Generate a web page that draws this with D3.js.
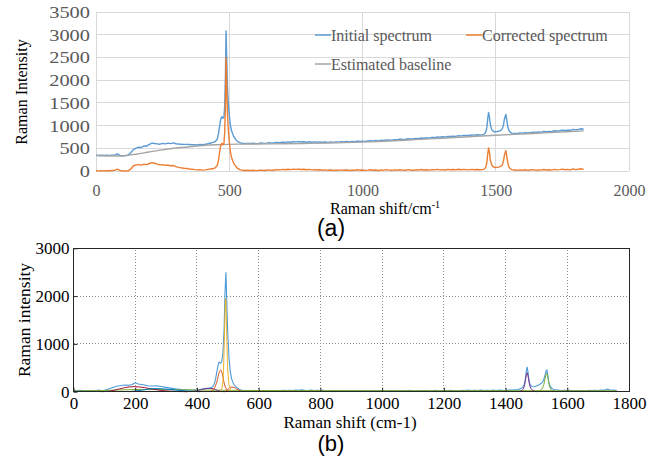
<!DOCTYPE html>
<html>
<head>
<meta charset="utf-8">
<script src="https://cdn.jsdelivr.net/npm/d3@7/dist/d3.min.js"></script>
<style>
  html, body { margin: 0; padding: 0; background: #fff; }
  svg { display: block; }
  .serif { font-family: "Liberation Serif", "Times New Roman", "DejaVu Serif", serif; }
  .sans { font-family: "Liberation Sans", Arial, sans-serif; }
</style>
</head>
<body>
<svg id="fig" width="661" height="456"></svg>
<script>
// ---------- (a) baseline correction ----------
const shiftA = [0,10,20,30,40,50,60,70,80,90,100,110,120,130,140,150,160,170,180,190,200,210,220,230,240,250,260,270,280,290,300,310,320,330,340,350,360,370,380,390,400,410,420,430,
  440,445,450,455,460,464,468,472,476,480,483,486,488,490,493,496,500,504,508,512,516,520,525,530,540,550,
  560,570,580,590,600,610,620,630,640,650,660,670,680,690,700,710,720,730,740,750,760,770,780,790,800,810,820,830,840,850,860,870,880,890,900,910,920,930,940,950,960,970,980,990,
  1000,1010,1020,1030,1040,1050,1060,1070,1080,1090,1100,1110,1120,1130,1140,1150,1160,1170,1180,1190,1200,1210,1220,1230,1240,1250,1260,1270,1280,1290,1300,1310,1320,1330,1340,1350,1360,1370,1380,1390,1400,1410,1420,1430,1440,
  1450,1455,1460,1464,1467,1470,1473,1476,1480,1485,1490,1495,1500,1505,1510,1515,1520,1525,1529,1533,1538,1542,1546,1550,1555,1560,
  1570,1580,1590,1600,1610,1620,1630,1640,1650,1660,1670,1680,1690,1700,1710,1720,1730,1740,1750,1760,1770,1780,1790,1800,1810,1820,1830];

const initialA = [346,342,347,341,346,341,347,350,375,344,336,338,350,395,470,505,522,517,551,546,585,614,605,598,590,607,596,613,602,619,600,593,589,585,586,582,578,577,573,587,581,590,601,617,
  630,642,664,700,832,1000,1142,1195,1160,1185,1430,2190,3085,2580,1890,1540,1240,1020,900,830,768,732,692,655,623,605,
  606,609,604,611,603,608,618,608,613,624,613,621,627,625,636,629,641,632,644,640,646,638,645,634,644,634,641,634,642,632,639,631,640,631,641,636,647,642,649,639,650,645,659,651,
  657,652,661,669,661,670,662,677,673,686,681,678,690,687,699,695,693,710,706,705,717,713,727,722,732,724,738,736,750,744,753,747,763,760,768,763,779,773,784,782,781,792,789,797,793,
  800,807,833,885,976,1157,1288,1199,1010,911,878,864,864,867,874,885,902,933,1015,1156,1247,1098,950,886,852,833,
  828,824,837,833,846,836,846,857,848,858,856,871,864,873,866,886,879,887,900,891,901,894,917,905,916,931,919];

const correctedA = [5,3,6,2,8,4,10,14,40,12,2,0,3,40,110,135,140,130,150,140,165,185,170,150,135,140,125,130,115,120,95,80,70,60,55,45,40,30,25,30,20,25,35,45,
  55,65,85,120,250,420,560,610,580,600,850,1600,2500,2000,1300,950,650,430,310,240,180,140,100,65,30,15,
  12,18,10,15,8,14,20,12,18,25,15,22,30,25,35,28,38,30,42,35,40,32,38,28,35,25,30,22,28,18,25,15,22,12,20,15,25,18,22,12,20,15,28,18,
  22,14,20,28,16,22,12,25,18,30,20,15,24,18,28,20,15,30,22,18,26,20,32,22,28,18,30,24,35,25,30,22,35,28,32,25,38,28,35,30,25,35,28,32,26,
  30,35,60,110,200,380,510,420,230,130,95,80,78,80,85,95,110,140,220,360,450,300,150,85,50,30,
  22,15,25,18,28,15,22,30,18,25,20,32,22,28,18,35,25,30,40,28,35,25,45,30,38,50,35];

// estimated baseline, sampled at knots and drawn as a smooth curve
const baselineShift = [0,95,120,150,200,250,300,350,400,450,500,550,600,700,800,900,1000,1100,1200,1300,1400,1500,1600,1700,1830];
const baselineValue = [340,331,345,370,418,465,505,535,560,577,587,592,595,600,608,620,635,660,690,722,755,786,815,845,884];

const xTicksA = [0,500,1000,1500,2000];
const yTicksA = [0,500,1000,1500,2000,2500,3000,3500];
const legendA = ["Initial spectrum","Corrected spectrum","Estimated baseline"];
const coloursA = ["#5b9bd5","#ed7d31","#a5a5a5"];

// ---------- (b) peak fitting ----------
const shiftB = [0,10,20,30,40,50,60,70,80,90,100,110,120,130,140,150,160,170,180,190,200,210,220,230,240,250,260,270,280,290,300,310,320,330,340,350,360,370,380,390,400,410,420,430,
  440,445,450,455,460,464,468,472,476,480,484,488,491,494,497,500,504,508,512,516,520,525,530,540,550,
  560,570,580,590,600,610,620,630,640,650,660,670,680,690,700,710,720,730,740,750,760,770,780,790,800,810,820,830,840,850,860,870,880,890,900,910,920,930,940,950,960,970,980,990,
  1000,1010,1020,1030,1040,1050,1060,1070,1080,1090,1100,1110,1120,1130,1140,1150,1160,1170,1180,1190,1200,1210,1220,1230,1240,1250,1260,1270,1280,1290,1300,1310,1320,1330,1340,1350,1360,1370,1380,1390,1400,1410,1420,1430,1440,
  1445,1450,1455,1460,1464,1467,1470,1473,1476,1480,1485,1490,1495,1500,1505,1510,1515,1520,1524,1528,1531,1534,1537,1540,1545,1550,1555,1560,
  1570,1580,1590,1600,1610,1620,1630,1640,1650,1660,1670,1680,1690,1700,1710,1720,1730,1740,1750,1760];

const spectrumB = [25,20,28,22,25,18,22,20,35,25,30,45,70,95,115,125,135,140,135,150,185,160,150,140,125,118,120,125,115,105,90,80,70,60,55,45,40,35,30,35,30,45,60,70,
  75,80,100,140,250,400,540,620,600,620,800,1300,2100,2500,1800,1200,700,420,280,200,150,110,80,40,20,
  15,22,12,18,10,16,22,14,20,26,18,24,30,22,28,25,35,28,38,30,26,32,24,30,22,28,20,26,18,24,20,16,24,14,20,16,24,18,22,14,20,16,26,18,
  22,15,20,26,16,22,14,24,18,28,20,16,24,18,26,20,16,28,22,18,24,20,30,22,26,18,28,22,34,24,28,22,32,26,30,24,34,26,32,28,24,32,36,40,45,
  55,65,90,140,260,420,520,400,230,140,110,105,110,120,135,150,170,200,260,350,430,450,340,200,110,70,50,40,
  32,25,30,22,28,20,26,18,24,20,28,22,30,24,35,28,55,30,35,28];

// fitted components: [shift, intensity] pairs
const bgB     = [[0,15],[100,25],[200,45],[300,42],[400,35],[500,30],[600,25],[800,22],[1000,20],[1200,20],[1400,22],[1600,20],[1760,20]];
const band190 = [[90,0],[120,15],[150,60],[180,100],[200,105],[230,85],[260,50],[290,22],[330,5],[370,0]];
const band270 = [[180,0],[220,30],[260,65],[290,60],[330,35],[370,12],[410,0]];
const band435 = [[380,0],[405,25],[425,60],[445,70],[460,45],[475,10],[490,0]];
const band478 = [[440,0],[455,60],[465,220],[472,400],[477,455],[482,380],[489,160],[498,40],[510,0]];
const band493 = [[470,0],[481,80],[486,450],[490,1400],[493,1950],[496,1300],[500,450],[506,90],[516,0]];
const band520 = [[490,0],[500,50],[510,95],[520,90],[530,50],[545,0]];
const band1470 = [[1440,0],[1455,40],[1462,150],[1467,330],[1470,400],[1473,320],[1478,140],[1486,40],[1500,0]];
const band1533 = [[1500,0],[1515,40],[1524,150],[1530,330],[1533,390],[1537,300],[1542,120],[1550,30],[1565,0]];

const xTicksB = [0,200,400,600,800,1000,1200,1400,1600,1800];
const yTicksB = [0,1000,2000,3000];

const svg = d3.select("#fig");
svg.append("rect").attr("width",661).attr("height",456).attr("fill","#fff");

// ===== panel (a) =====
const xA = d3.scaleLinear().domain([0,2000]).range([96,629]);
const yA = d3.scaleLinear().domain([0,3500]).range([171,12]);
const gA = svg.append("g");

// grid
gA.append("g").selectAll("line").data(yTicksA).join("line")
  .attr("x1",xA(0)).attr("x2",xA(2000)).attr("y1",d=>yA(d)).attr("y2",d=>yA(d))
  .attr("stroke","#d9d9d9").attr("stroke-width",1).attr("shape-rendering","crispEdges");
gA.append("g").selectAll("line").data(xTicksA).join("line")
  .attr("x1",d=>xA(d)).attr("x2",d=>xA(d)).attr("y1",yA(0)).attr("y2",yA(3500))
  .attr("stroke","#d9d9d9").attr("stroke-width",1).attr("shape-rendering","crispEdges");

// axes (labels only)
const axA = gA.append("g").attr("transform",`translate(0,${yA(0)})`)
  .call(d3.axisBottom(xA).tickValues(xTicksA).tickSize(0).tickPadding(14).tickFormat(d3.format("d")));
const ayA = gA.append("g").attr("transform",`translate(${xA(0)},0)`)
  .call(d3.axisLeft(yA).tickValues(yTicksA).tickSize(0).tickPadding(5).tickFormat(d3.format("d")));
[axA, ayA].forEach(a => {
  a.select(".domain").remove();
  a.attr("font-family",null).attr("font-size",null);
  a.selectAll("text").attr("class","serif").style("font-size","16px").attr("fill","#595959");
});
// the vertical-axis numbers are set wide
ayA.selectAll("text").style("font-size","17px").attr("x",-5).attr("transform","scale(1.2,1)");

const lineA = d3.line().x(d=>xA(d[0])).y(d=>yA(d[1]));
const pairs = (xs, ys) => xs.map((x,i)=>[x, ys[i]]);

gA.append("path").datum(pairs(shiftA, initialA)).attr("d",lineA)
  .attr("fill","none").attr("stroke",coloursA[0]).attr("stroke-width",1.4).attr("stroke-linejoin","round");
gA.append("path").datum(pairs(baselineShift, baselineValue)).attr("d",lineA.curve(d3.curveMonotoneX))
  .attr("fill","none").attr("stroke",coloursA[2]).attr("stroke-width",1.4);
lineA.curve(d3.curveLinear);
gA.append("path").datum(pairs(shiftA, correctedA)).attr("d",lineA)
  .attr("fill","none").attr("stroke",coloursA[1]).attr("stroke-width",1.4).attr("stroke-linejoin","round");

// legend
const legPos = [[315,35],[466,35],[315,64]];
legendA.forEach((name,i)=>{
  const [lx,ly] = legPos[i];
  gA.append("line").attr("x1",lx).attr("x2",lx+16).attr("y1",ly).attr("y2",ly)
    .attr("stroke",coloursA[i]).attr("stroke-width",1.5);
  gA.append("text").attr("class","serif").attr("x",lx+16).attr("y",ly+5.5).text(name)
    .style("font-size","16px").attr("fill","#595959");
});

// titles
gA.append("text").attr("class","serif").attr("transform","translate(27,92) rotate(-90)").attr("text-anchor","middle")
  .style("font-size","16px").attr("fill","#000").text("Raman Intensity");
const tA = gA.append("text").attr("class","serif").attr("x",330).attr("y",214)
  .style("font-size","16px").attr("fill","#000");
tA.append("tspan").text("Raman shift/cm");
tA.append("tspan").attr("dy",-6).style("font-size","10px").text("-1");
gA.append("text").attr("class","sans").attr("x",331).attr("y",236).attr("text-anchor","middle")
  .style("font-size","23px").attr("fill","#000").text("(a)");

// ===== panel (b) =====
const xB = d3.scaleLinear().domain([0,1800]).range([73.5,629]);
const yB = d3.scaleLinear().domain([0,3000]).range([391.7,248.3]);
const gB = svg.append("g");

gB.append("g").selectAll("line").data(yTicksB.slice(1,-1)).join("line")
  .attr("x1",xB(0)).attr("x2",xB(1800)).attr("y1",d=>yB(d)).attr("y2",d=>yB(d))
  .attr("stroke","#8c8c8c").attr("stroke-width",1).attr("stroke-dasharray","1,2").attr("shape-rendering","crispEdges");
gB.append("g").selectAll("line").data(xTicksB.slice(1,-1)).join("line")
  .attr("x1",d=>xB(d)).attr("x2",d=>xB(d)).attr("y1",yB(0)).attr("y2",yB(3000))
  .attr("stroke","#8c8c8c").attr("stroke-width",1).attr("stroke-dasharray","1,2").attr("shape-rendering","crispEdges");

const lineB = d3.line().x(d=>xB(d[0])).y(d=>yB(d[1]));
const smoothB = d3.line().x(d=>xB(d[0])).y(d=>yB(d[1])).curve(d3.curveMonotoneX);
const comps = [
  [bgB,"#77ac30"],[band190,"#a2142f"],[band270,"#0072bd"],[band435,"#7e2f8e"],
  [band478,"#d95319"],[band520,"#d95319"],[band1470,"#7e2f8e"],[band1533,"#77ac30"]
];
gB.append("path").datum(pairs(shiftB, spectrumB)).attr("d",lineB)
  .attr("fill","none").attr("stroke","#4a9bd8").attr("stroke-width",1.1);
comps.forEach(([d,c])=>{
  gB.append("path").datum(d).attr("d",smoothB).attr("fill","none").attr("stroke",c).attr("stroke-width",1);
});
gB.append("path").datum(band493).attr("d",smoothB).attr("fill","none").attr("stroke","#edb120").attr("stroke-width",1);

// frame
gB.append("rect").attr("x",xB(0)).attr("y",yB(3000)).attr("width",xB(1800)-xB(0)).attr("height",yB(0)-yB(3000))
  .attr("fill","none").attr("stroke","#262626").attr("stroke-width",1).attr("shape-rendering","crispEdges");

const axB = gB.append("g").attr("transform",`translate(0,${yB(0)})`)
  .call(d3.axisBottom(xB).tickValues(xTicksB).tickSizeInner(-4).tickSizeOuter(0).tickPadding(5).tickFormat(d3.format("d")));
const ayB = gB.append("g").attr("transform",`translate(${xB(0)},0)`)
  .call(d3.axisLeft(yB).tickValues(yTicksB).tickSizeInner(-4).tickSizeOuter(0).tickPadding(4).tickFormat(d3.format("d")));
[axB, ayB].forEach(a => {
  a.select(".domain").remove();
  a.attr("font-family",null).attr("font-size",null);
  a.selectAll("line").attr("stroke","#262626");
  a.selectAll("text").attr("class","serif").style("font-size","17px").attr("fill","#000");
});

gB.append("text").attr("class","serif").attr("transform","translate(30,320) rotate(-90)").attr("text-anchor","middle")
  .style("font-size","17.5px").attr("fill","#000").text("Raman intensity");
gB.append("text").attr("class","serif").attr("x",350).attr("y",428).attr("text-anchor","middle")
  .style("font-size","17px").attr("fill","#000").text("Raman shift (cm-1)");
gB.append("text").attr("class","sans").attr("x",331).attr("y",451).attr("text-anchor","middle")
  .style("font-size","22px").attr("fill","#000").text("(b)");
</script>
</body>
</html>
